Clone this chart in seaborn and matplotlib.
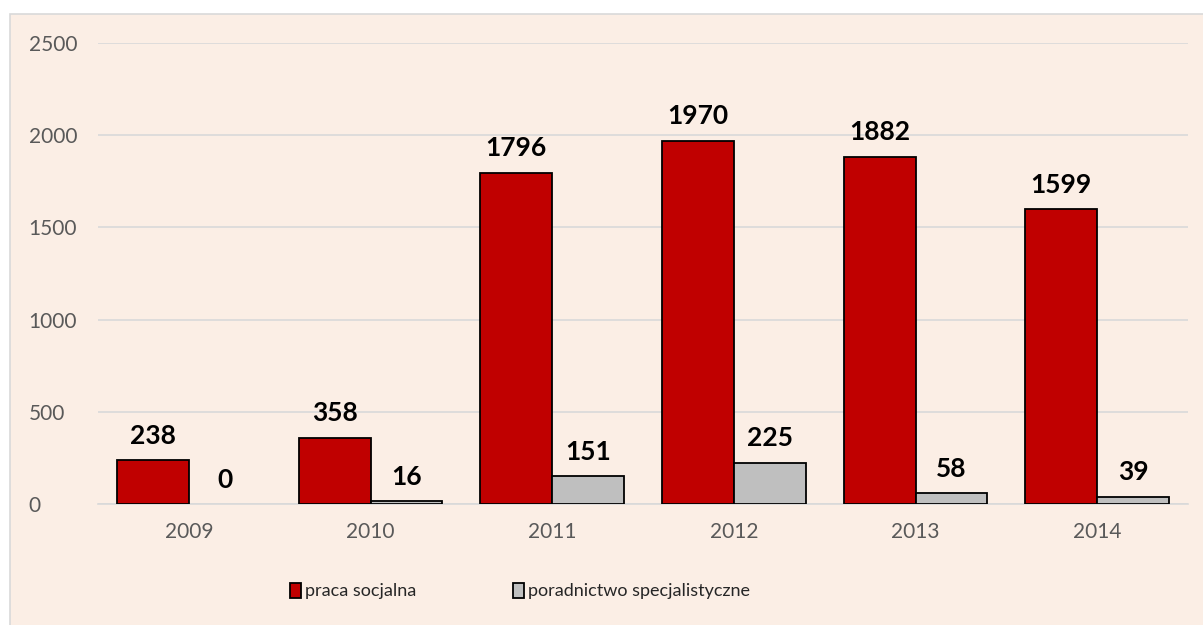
import pandas as pd
import matplotlib
matplotlib.use("Agg")
import matplotlib.pyplot as plt
import seaborn as sns
from matplotlib.patches import Rectangle

years = ["2009", "2010", "2011", "2012", "2013", "2014"]
praca = [238, 358, 1796, 1970, 1882, 1599]
poradnictwo = [0, 16, 151, 225, 58, 39]
series_names = ["praca socjalna", "poradnictwo specjalistyczne"]
colors = ["#C00000", "#BFBFBF"]

df = pd.DataFrame({
    "rok": years * 2,
    "seria": [series_names[0]] * len(years) + [series_names[1]] * len(years),
    "wartosc": praca + poradnictwo,
})

sns.set_style("white")
plt.rcParams["font.family"] = ["Lato", "DejaVu Sans"]

bg = "#FBEEE5"
fig = plt.figure(figsize=(12.03, 6.25), dpi=100)
fig.patch.set_facecolor("white")
# chart-area background with a thin grey frame (left/top visible)
frame = Rectangle((10 / 1203, -0.01), 1.0, (625 - 14) / 625 + 0.01,
                  transform=fig.transFigure, facecolor=bg,
                  edgecolor="#D9D9D9", linewidth=1.2, zorder=-10)
fig.patches.append(frame)

ax = fig.add_axes([98 / 1203, (625 - 504) / 625, (1188 - 98) / 1203, (504 - 43) / 625])
ax.set_facecolor("none")

sns.barplot(data=df, x="rok", y="wartosc", hue="seria", palette=colors,
            saturation=1, width=0.79, edgecolor="black", linewidth=1.3,
            ax=ax, zorder=3)

for cont in ax.containers:
    for bar in cont:
        if bar.get_height() == 0:
            bar.set_linewidth(0)
    ax.bar_label(cont, padding=9, fontsize=19, fontweight="bold", color="black")

ax.set_ylim(0, 2500)
ax.set_yticks(range(0, 2501, 500))
ax.set_xlim(-0.5, 5.5)
ax.yaxis.grid(True, color="#D9D9D9", linewidth=1.2, zorder=0)
ax.set_axisbelow(True)
for s in ["top", "right", "left"]:
    ax.spines[s].set_visible(False)
ax.spines["bottom"].set_color("#D9D9D9")
ax.spines["bottom"].set_linewidth(1.2)
ax.tick_params(axis="both", length=0, labelsize=15, labelcolor="#595959")
ax.tick_params(axis="x", pad=13)
ax.tick_params(axis="y", pad=50)
for lbl in ax.get_yticklabels():
    lbl.set_horizontalalignment("left")
ax.set_xlabel("")
ax.set_ylabel("")

handles, labels = ax.get_legend_handles_labels()
ax.legend(handles, labels, loc="center", bbox_to_anchor=(520 / 1203, 34 / 625),
          bbox_transform=fig.transFigure, ncol=2, frameon=False, fontsize=13,
          handlelength=0.6, handleheight=0.9, handletextpad=0.2, columnspacing=5.4)

fig.savefig("out.png", dpi=100)
